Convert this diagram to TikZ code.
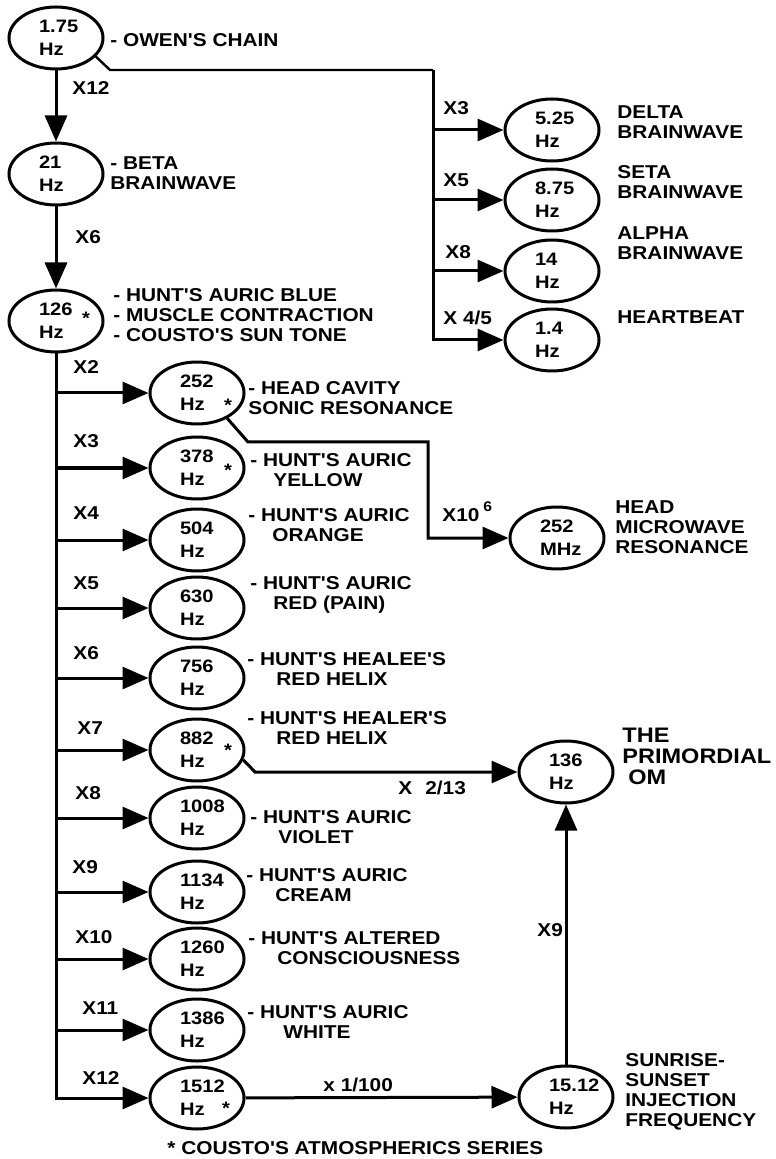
\documentclass[tikz,border=0pt]{standalone}
\usepackage{fontspec}
\setmainfont{Liberation Sans}[FakeStretch=1.12,Ligatures=TeXOff]
\usetikzlibrary{arrows.meta,shapes.geometric}
\newcommand\labfont{\bfseries\fontsize{9.3}{10}\selectfont}
\newcommand\hzfont{\bfseries\fontsize{9}{11.5}\selectfont}
\newcommand\bigfont{\bfseries\fontsize{10.5}{10.5}\selectfont}
\tikzset{
  hz/.style={
    ellipse,
    draw,
    line width=1.5pt,
    minimum width=47pt,
    minimum height=31pt,
    inner sep=0pt,
    text width=17pt,
    align=left,
    font=\hzfont
  },
  desc/.style={anchor=west, inner sep=0pt, align=left, font=\labfont},
  mult/.style={anchor=west, inner sep=0pt, font=\labfont},
  astx/.style={inner sep=0pt, font=\hzfont},
  arr/.style={-{Triangle[length=13pt,width=11pt]}, line width=1.5pt},
  wire/.style={line width=1.2pt}
}

\begin{document}
\begin{tikzpicture}[x=0.5pt,y=-0.5pt]
  \useasboundingbox (0,0) rectangle (775,1159);
  % main chain
  \node[hz] (n175) at (56,38) {1.75\\Hz};
  \node[hz] (n21) at (56,174) {21\\Hz};
  \node[hz] (n126) at (56,321) {126\\Hz};
  \node[hz] (n252) at (197,393) {252\\Hz};
  \node[hz] (n378) at (197,468) {378\\Hz};
  \node[hz] (n504) at (197,540) {504\\Hz};
  \node[hz] (n630) at (197,608) {630\\Hz};
  \node[hz] (n756) at (197,678) {756\\Hz};
  \node[hz] (n882) at (197,750) {882\\Hz};
  \node[hz] (n1008) at (197,818) {1008\\Hz};
  \node[hz] (n1134) at (197,892) {1134\\Hz};
  \node[hz] (n1260) at (197,959) {1260\\Hz};
  \node[hz] (n1386) at (197,1030) {1386\\Hz};
  \node[hz] (n1512) at (197,1098) {1512\\Hz};
  % right side
  \node[hz] (n525) at (552,130) {5.25\\Hz};
  \node[hz] (n875) at (552,200) {8.75\\Hz};
  \node[hz] (n14) at (552,271) {14\\Hz};
  \node[hz] (n1p4) at (552,340) {1.4\\Hz};
  \node[hz] (n252M) at (557,538) {252\\MHz};
  \node[hz] (n136) at (566,772) {136\\Hz};
  \node[hz] (n1512b) at (566,1097) {15.12\\Hz};

  \node[astx] (s126) at (86,318) {*};
  \node[astx] (s252) at (228,405) {*};
  \node[astx] (s378) at (228,470) {*};
  \node[astx] (s882) at (228,750) {*};
  \node[astx] (s1512) at (226,1108) {*};

  % descriptions
  \node[desc] (l175) at (110,40) {- OWEN'S CHAIN};
  \node[desc] (l21) at (110,173) {- BETA\\BRAINWAVE};
  \node[desc] (l126) at (113,315) {- HUNT'S AURIC BLUE\\- MUSCLE CONTRACTION\\- COUSTO'S SUN TONE};
  \node[desc] (l252) at (248,398) {- HEAD CAVITY\\SONIC RESONANCE};
  \node[desc] (l378) at (250,470) {- HUNT'S AURIC\\\hspace*{11.5pt}YELLOW};
  \node[desc] (l504) at (248,525) {- HUNT'S AURIC\\\hspace*{12pt}ORANGE};
  \node[desc] (l630) at (250,595) {- HUNT'S AURIC\\\hspace*{11.5pt}RED (PAIN)};
  \node[desc] (l756) at (247,669) {- HUNT'S HEALEE'S\\\hspace*{14.5pt}RED HELIX};
  \node[desc] (l882) at (247,728) {- HUNT'S HEALER'S\\\hspace*{14.5pt}RED HELIX};
  \node[desc] (l1008) at (250,827) {- HUNT'S AURIC\\\hspace*{14pt}VIOLET};
  \node[desc] (l1134) at (246,885) {- HUNT'S AURIC\\\hspace*{14.5pt}CREAM};
  \node[desc] (l1260) at (248,948) {- HUNT'S ALTERED\\\hspace*{14.5pt}CONSCIOUSNESS};
  \node[desc] (l1386) at (247,1022) {- HUNT'S AURIC\\\hspace*{18pt}WHITE};
  \node[desc] (l525) at (617,122) {DELTA\\BRAINWAVE};
  \node[desc] (l875) at (617,182) {SETA\\BRAINWAVE};
  \node[desc] (l14) at (617,243) {ALPHA\\BRAINWAVE};
  \node[desc] (l1p4) at (617,317) {HEARTBEAT};
  \node[desc] (l252M) at (615,527) {HEAD\\MICROWAVE\\RESONANCE};
  \node[desc,font=\bigfont] (l136) at (622,756) {THE\\PRIMORDIAL\\\hspace*{3pt}OM};
  \node[desc] (l1512b) at (625,1092) {SUNRISE-\\SUNSET\\INJECTION\\FREQUENCY};
  \node[desc] (note) at (167,1148) {* COUSTO'S ATMOSPHERICS SERIES};

  % multipliers
  \node[mult] (x12a) at (72,88) {X12};
  \node[mult] (x6a) at (75,237) {X6};
  \node[mult] (b2) at (73,367) {X2};
  \node[mult] (b3) at (73,441) {X3};
  \node[mult] (b4) at (73,513) {X4};
  \node[mult] (b5) at (73,583) {X5};
  \node[mult] (b6) at (73,653) {X6};
  \node[mult] (b7) at (77,728) {X7};
  \node[mult] (b8) at (75,793) {X8};
  \node[mult] (b9) at (72,867) {X9};
  \node[mult] (b10) at (75,937) {X10};
  \node[mult] (b11) at (82,1008) {X11};
  \node[mult] (b12) at (82,1078) {X12};
  \node[mult] (r3) at (443,108) {X3};
  \node[mult] (r5) at (443,180) {X5};
  \node[mult] (r8) at (445,252) {X8};
  \node[mult] (r45) at (443,318) {X 4/5};
  \node[mult] (x106) at (442,512) {X10\hspace{2pt}\raisebox{5pt}{\fontsize{7}{7}\selectfont 6}};
  \node[mult] (x213) at (398,788) {X\hspace{6.5pt}2/13};
  \node[mult] (x100) at (323,1085) {x 1/100};
  \node[mult] (x9r) at (537,930) {X9};

  \coordinate (owenkink) at (110,70);
  \coordinate (owenrail) at (433,70);
  \coordinate (headkink) at (248,442);
  \coordinate (headrail) at (428,442);
  \coordinate (helixkink) at (255,772);

  % connectors
  \draw[arr] (n175) -- (n21);
  \draw[arr] (n21) -- (n126);
  \draw[wire] (n175.-25) -- (owenkink) -- (owenrail);
  \draw[arr] (owenrail) |- (n1p4);
  \draw[arr] (owenrail |- n525) -- (n525);
  \draw[arr] (owenrail |- n875) -- (n875);
  \draw[arr] (owenrail |- n14) -- (n14);
  \draw[arr] (n126) |- (n1512);
  \draw[arr] (n126 |- n252) -- (n252);
  \draw[arr] (n126 |- n378) -- (n378);
  \draw[arr] (n126 |- n504) -- (n504);
  \draw[arr] (n126 |- n630) -- (n630);
  \draw[arr] (n126 |- n756) -- (n756);
  \draw[arr] (n126 |- n882) -- (n882);
  \draw[arr] (n126 |- n1008) -- (n1008);
  \draw[arr] (n126 |- n1134) -- (n1134);
  \draw[arr] (n126 |- n1260) -- (n1260);
  \draw[arr] (n126 |- n1386) -- (n1386);
  \draw[arr] (n252.-40) -- (headkink) -- (headrail) |- (n252M);
  \draw[arr] (n882.-12) -- (helixkink) -- (n136);
  \draw[arr] (n1512) -- (n1512b);
  \draw[arr] (n1512b) -- (n136);
\end{tikzpicture}
\end{document}
